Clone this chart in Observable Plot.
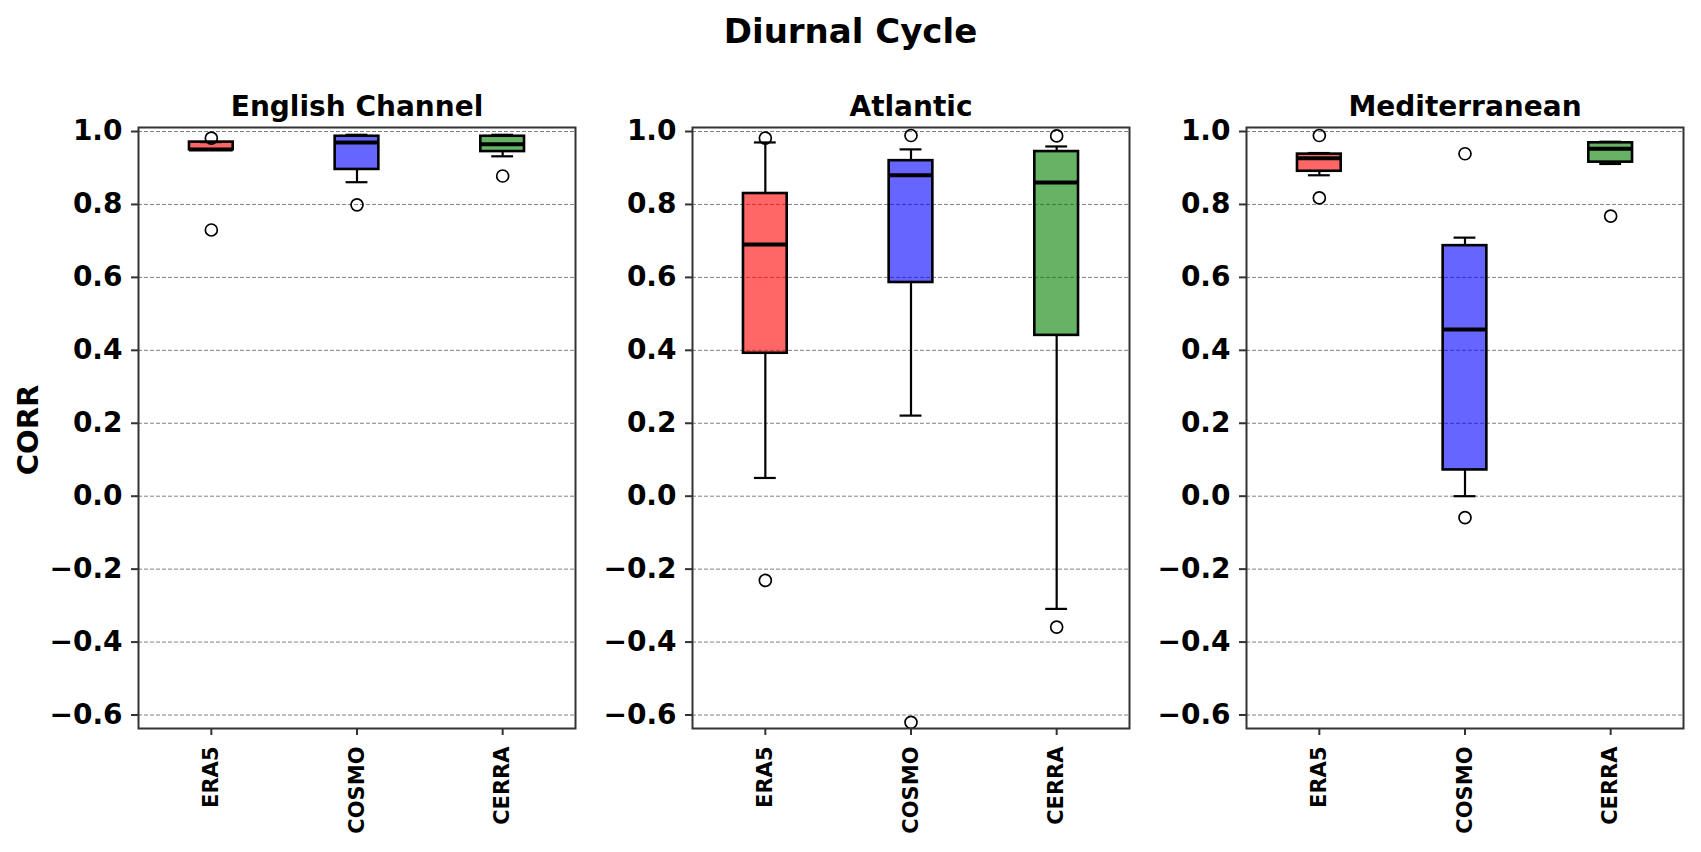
<!DOCTYPE html>
<html><head><meta charset="utf-8">
<script src="https://cdn.jsdelivr.net/npm/d3@7"></script>
<script src="https://cdn.jsdelivr.net/npm/@observablehq/plot@0.6"></script>
<style>
body{margin:0;background:#fff;font-family:"DejaVu Sans",sans-serif;}
#fig{position:relative;width:1701px;height:852px;overflow:hidden;background:#fff;}
#title{position:absolute;left:0;width:1701px;top:11px;text-align:center;font-size:34px;font-weight:bold;line-height:normal;color:#000;}
#ylabel{position:absolute;left:28px;top:430px;transform:translate(-50%,-50%) rotate(-90deg);font-size:29px;font-weight:bold;white-space:nowrap;color:#000;}
.panel{position:absolute;top:0;}
</style></head><body>
<div id="fig"><div id="title">Diurnal Cycle</div><div id="ylabel">CORR</div></div>
<script>
const regions = ["English Channel", "Atlantic", "Mediterranean"];
const models = ["ERA5", "COSMO", "CERRA"];
const yTicks = [-0.6, -0.4, -0.2, 0.0, 0.2, 0.4, 0.6, 0.8, 1.0];
// values per region (rows) and model (columns)
const q1 = [[0.950, 0.896, 0.945], [0.392, 0.586, 0.441], [0.891, 0.072, 0.916]];
const median = [[0.951, 0.970, 0.965], [0.690, 0.880, 0.860], [0.927, 0.457, 0.953]];
const q3 = [[0.971, 0.987, 0.987], [0.830, 0.920, 0.945], [0.938, 0.687, 0.969]];
const whiskerLow = [[0.950, 0.861, 0.932], [0.050, 0.221, -0.309], [0.880, 0.000, 0.911]];
const whiskerHigh = [[0.971, 0.991, 0.991], [0.970, 0.951, 0.959], [0.941, 0.709, 0.972]];
const outliers = [
  [[0.982, 0.730], [0.799], [0.878]],
  [[0.982, -0.231], [0.989, -0.620], [0.988, -0.359]],
  [[0.989, 0.818], [0.939, -0.059], [0.768]]
];
const boxColors = ["red", "blue", "green"];

const fig = document.getElementById("fig");
regions.forEach((region, r) => {
  const boxes = models.map((model, j) => ({
    model, pos: j + 1,
    q1: q1[r][j], med: median[r][j], q3: q3[r][j],
    lo: whiskerLow[r][j], hi: whiskerHigh[r][j]
  }));
  const fliers = models.flatMap((model, j) => outliers[r][j].map(v => ({model, pos: j + 1, value: v})));
  const half = 0.15, cap = 0.075;
  const chart = Plot.plot({
    width: 547, height: 852,
    marginTop: 127, marginBottom: 124, marginLeft: 100, marginRight: 10,
    style: {fontFamily: "DejaVu Sans", background: "transparent", overflow: "visible", color: "#000"},
    x: {domain: [0.5, 3.5]},
    y: {domain: [-0.637, 1.011]},
    color: {domain: models, range: boxColors},
    marks: [
      Plot.ruleY(yTicks, {stroke: "#808080", strokeWidth: 1, strokeDasharray: "4,2"}),
      Plot.rect(boxes, {x1: d => d.pos - half, x2: d => d.pos + half, y1: "q1", y2: "q3", fill: "model", fillOpacity: 0.6}),
      Plot.rect(boxes, {x1: d => d.pos - half, x2: d => d.pos + half, y1: "q1", y2: "q3", fill: "none", stroke: "black", strokeWidth: 2.6}),
      Plot.ruleX(boxes, {x: "pos", y1: "q3", y2: "hi", stroke: "black", strokeWidth: 2.2}),
      Plot.ruleX(boxes, {x: "pos", y1: "lo", y2: "q1", stroke: "black", strokeWidth: 2.2}),
      Plot.ruleY(boxes, {y: "hi", x1: d => d.pos - cap, x2: d => d.pos + cap, stroke: "black", strokeWidth: 2.2}),
      Plot.ruleY(boxes, {y: "lo", x1: d => d.pos - cap, x2: d => d.pos + cap, stroke: "black", strokeWidth: 2.2}),
      Plot.ruleY(boxes, {y: "med", x1: d => d.pos - half, x2: d => d.pos + half, stroke: "black", strokeWidth: 4}),
      Plot.dot(fliers, {x: "pos", y: "value", r: 6, stroke: "black", strokeWidth: 1.7, fill: "none"}),
      Plot.frame({stroke: "#333", strokeWidth: 2}),
      Plot.axisY({ticks: yTicks, tickFormat: ".1f", tickSize: 7, tickPadding: 9, fontSize: 28, fontWeight: "bold", label: null, stroke: "#333", strokeWidth: 2, fill: "#000"}),
      Plot.axisX({ticks: [1, 2, 3], tickFormat: i => models[i - 1], tickRotate: -90, tickSize: 7, tickPadding: 11, fontSize: 21, fontWeight: "bold", label: null, stroke: "#333", strokeWidth: 2, fill: "#000"}),
      Plot.text([region], {frameAnchor: "top", dy: -12, lineAnchor: "bottom", fontSize: 28, fontWeight: "bold", fill: "#000"})
    ]
  });
  chart.classList.add("panel");
  chart.style.left = (38 + r * 554) + "px";
  fig.appendChild(chart);
});
</script>
</body></html>
